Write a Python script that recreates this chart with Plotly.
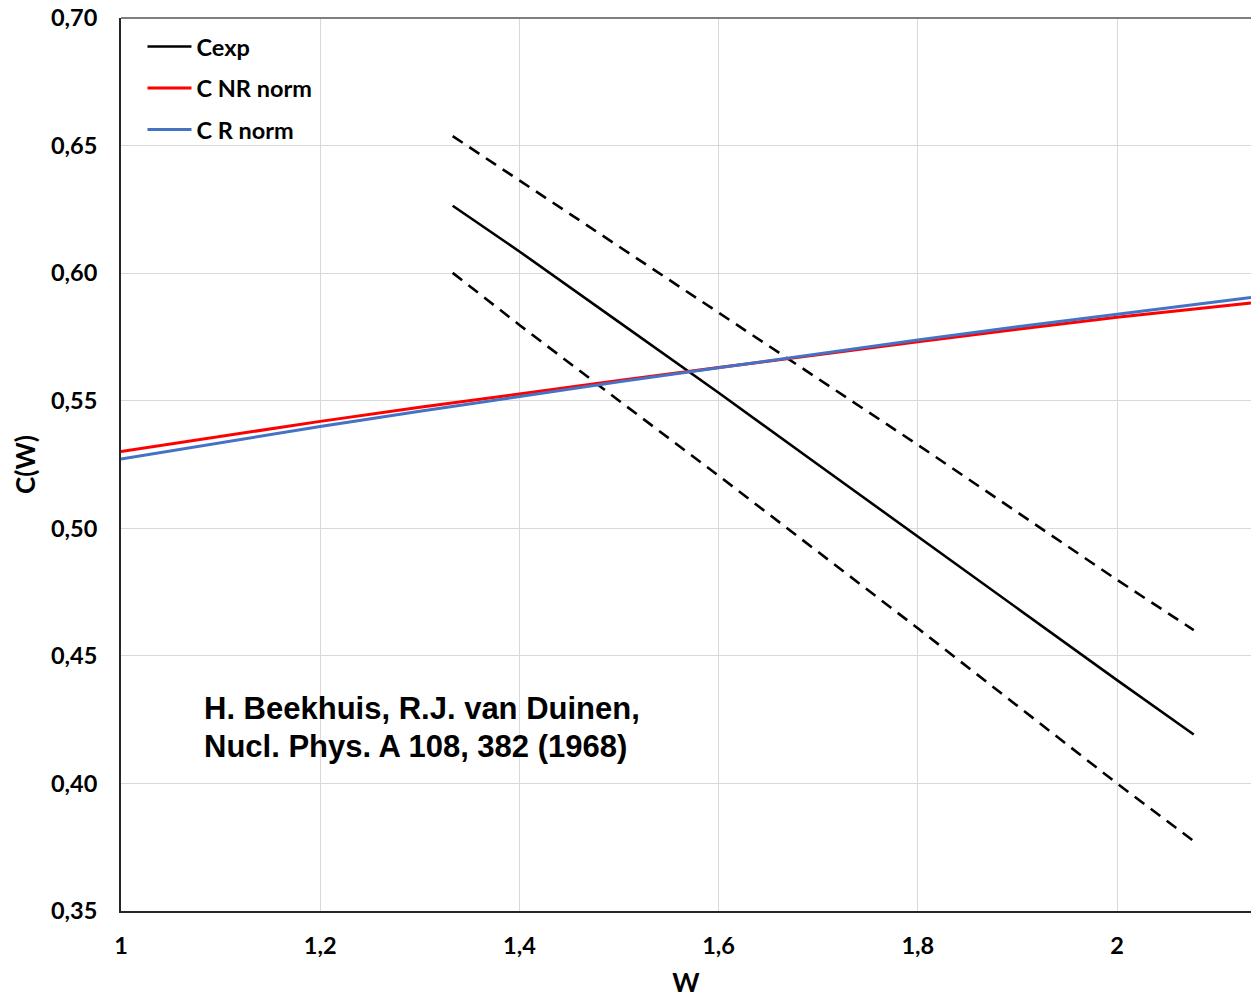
import plotly.graph_objects as go

# Theoretical curves
w_theory = [1.0, 1.1, 1.2, 1.3, 1.4, 1.5, 1.6, 1.7, 1.8, 1.9, 2.0, 2.1345]
c_nr_norm = [0.5301, 0.5361, 0.5419, 0.5474, 0.5527, 0.5579, 0.5630, 0.5681, 0.5731, 0.5780, 0.5827, 0.5883]
c_r_norm = [0.5271, 0.5336, 0.5399, 0.5459, 0.5517, 0.5574, 0.5629, 0.5684, 0.5738, 0.5790, 0.5840, 0.5905]

# Experimental curve with error band
w_exp = [1.333, 1.4, 1.5, 1.6, 1.7, 1.8, 1.9, 2.0, 2.077]
c_exp = [0.6264, 0.6085, 0.5808, 0.5531, 0.5249, 0.4967, 0.4686, 0.4405, 0.4192]
c_exp_upper = [0.6537, 0.6364, 0.6104, 0.5846, 0.5586, 0.5327, 0.5062, 0.4798, 0.4601]
c_exp_lower = [0.6001, 0.5797, 0.5500, 0.5206, 0.4907, 0.4608, 0.4304, 0.4000, 0.3774]

x_ticks = [1.0, 1.2, 1.4, 1.6, 1.8, 2.0]
y_ticks = [0.35, 0.40, 0.45, 0.50, 0.55, 0.60, 0.65, 0.70]

FONT = "Lato"

fig = go.Figure()
fig.add_trace(go.Scatter(x=w_exp, y=c_exp_upper, mode="lines", showlegend=False,
                         line=dict(color="black", width=2.6, dash="12px,8px")))
fig.add_trace(go.Scatter(x=w_exp, y=c_exp_lower, mode="lines", showlegend=False,
                         line=dict(color="black", width=2.6, dash="12px,8px")))
fig.add_trace(go.Scatter(x=w_exp, y=c_exp, mode="lines", name="Cexp", legendgroup="a",
                         line=dict(color="black", width=2.6)))
fig.add_trace(go.Scatter(x=w_theory, y=c_nr_norm, mode="lines", name="C NR norm", legendgroup="b",
                         line=dict(color="#ff0000", width=3)))
fig.add_trace(go.Scatter(x=w_theory, y=c_r_norm, mode="lines", name="C R norm", legendgroup="c",
                         line=dict(color="#4472c4", width=3)))

fig.add_annotation(x=1.0813, y=0.4295, xref="x", yref="y", xanchor="left", yanchor="middle",
                   text="H. Beekhuis, R.J. van Duinen,", showarrow=False,
                   font=dict(family="Liberation Sans", size=31, color="black", weight="bold"))
fig.add_annotation(x=1.0813, y=0.4146, xref="x", yref="y", xanchor="left", yanchor="middle",
                   text="Nucl. Phys. A 108, 382 (1968)", showarrow=False,
                   font=dict(family="Liberation Sans", size=31, color="black", weight="bold"))

fig.add_shape(type="line", xref="paper", yref="paper", x0=0, x1=1, y0=1, y1=1,
              line=dict(color="#7f7f7f", width=2))

fig.update_layout(
    width=1251, height=998,
    margin=dict(l=121, r=0, t=18, b=87),
    paper_bgcolor="white", plot_bgcolor="white",
    separators=", ",
    font=dict(family=FONT, size=23.5, color="black", weight="bold"),
    legend=dict(x=0.019, y=0.9925, xanchor="left", yanchor="top",
                traceorder="grouped", tracegroupgap=8, itemwidth=44,
                bgcolor="rgba(0,0,0,0)",
                font=dict(family=FONT, size=23.5, color="black", weight="bold")),
    xaxis=dict(range=[1.0, 2.1345], tickvals=x_ticks, showgrid=True, gridcolor="#d9d9d9", gridwidth=1,
               showline=True, linecolor="#262626", linewidth=2, zeroline=False, automargin=False,
               ticks="", ticklabelstandoff=13,
               title=dict(text="W", font=dict(family=FONT, size=26, weight="bold"), standoff=25)),
    yaxis=dict(range=[0.35, 0.70], tickvals=y_ticks, tickformat=".2f", showgrid=True, gridcolor="#d9d9d9",
               gridwidth=1, showline=True, linecolor="#262626", linewidth=2, zeroline=False, automargin=False,
               ticks="", ticklabelstandoff=17,
               title=dict(text="C(W)", font=dict(family=FONT, size=26, weight="bold"), standoff=8)),
)

fig.write_html("out.html")
